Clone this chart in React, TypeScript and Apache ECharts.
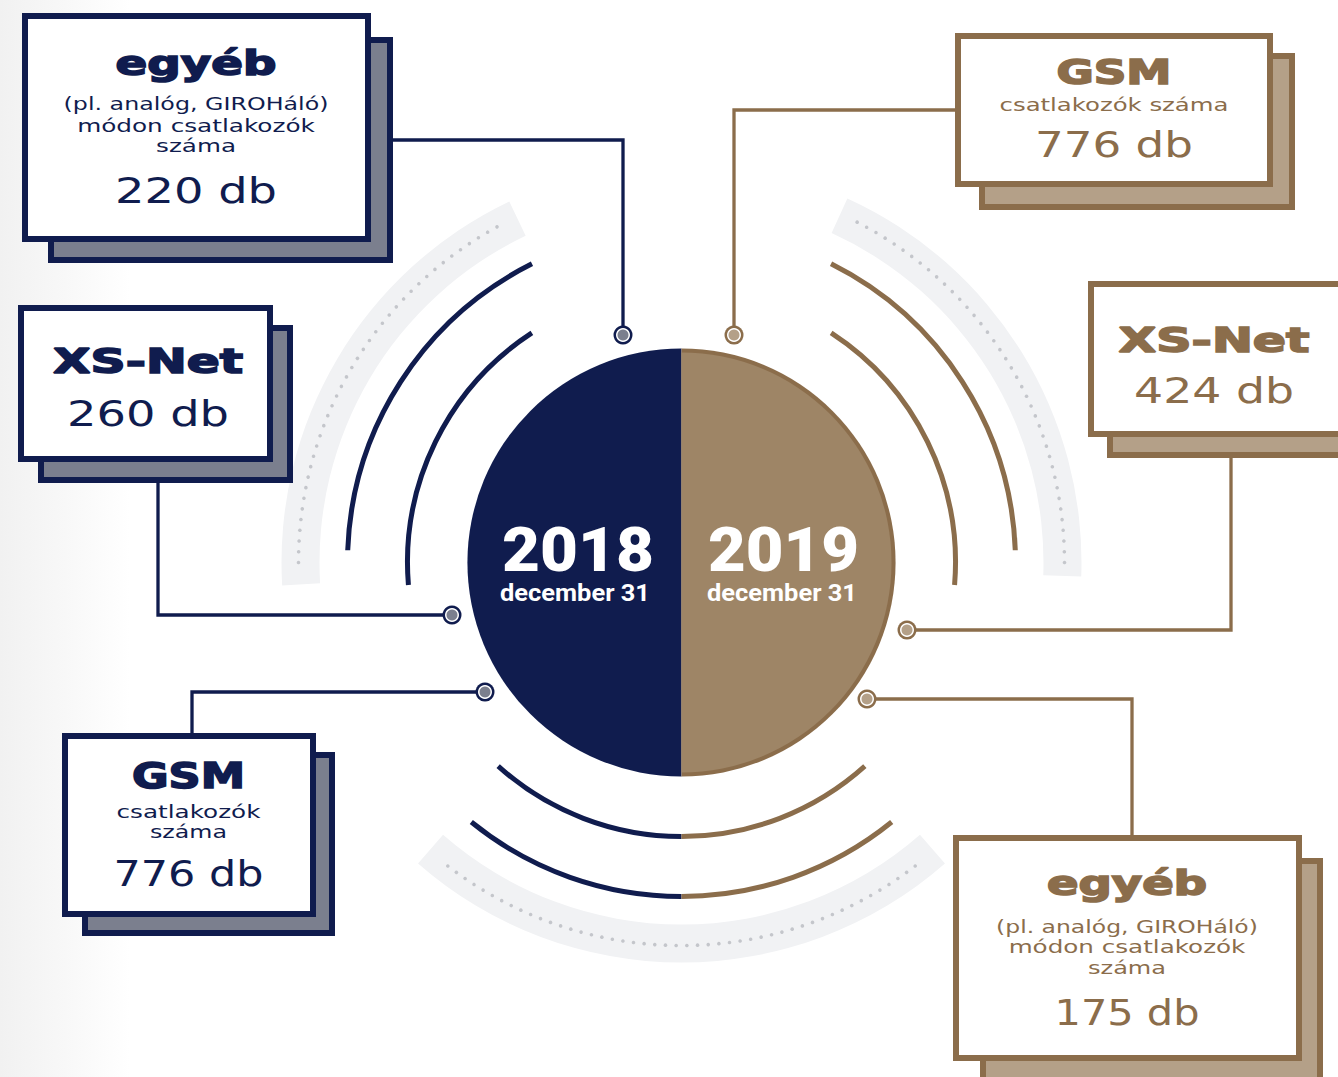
import React, { useEffect, useRef } from 'react';
import * as echarts from 'echarts';

// ---------- data ----------
const YEARS = ['2018', '2019'];
const DATE_LABEL = 'december 31';
const CATEGORIES = ['egyéb', 'XS-Net', 'GSM'];
const VALUES_2018 = [220, 260, 776];
const VALUES_2019 = [175, 424, 776];
const UNIT = 'db';
const NOTE_EGYEB = ['(pl. analóg, GIROHáló)', 'módon csatlakozók', 'száma'];
const NOTE_GSM_2018 = ['csatlakozók', 'száma'];
const NOTE_GSM_2019 = ['csatlakozók száma'];

// ---------- style ----------
const NAVY = '#101c4e';
const NAVY_SHADOW = '#7b7f8e';
const BROWN = '#8b6d4b';
const BROWN_SHADOW = '#b4a088';
const BROWN_FILL = '#9e8566';
const BAND = '#f1f2f4';
const DOT = '#c4c6cb';
const BOX_FONT = 'DejaVu Sans';
const YEAR_FONT = 'Roboto';

const CX = 681.5;
const CY = 562.5;
const R_CIRCLE = 214;
const R_ARC1 = 274;
const R_ARC2 = 334;
const R_BAND0 = 362;
const R_BAND1 = 400;
const R_DOTS = 383;

const rad = (d: number) => (d * Math.PI) / 180;

type Box = {
  year: number;
  cat: number;
  notes: string[];
  front: number[];
  shadow: number[];
  cx: number;
  title: number[]; // baseline, size, width
  noteLines: number[][]; // baseline, width
  value: number[]; // baseline, width
  link: number[][];
  dot: number[];
};

const BOXES: Box[] = [
  { year: 0, cat: 0, notes: NOTE_EGYEB, front: [22, 13, 371, 242], shadow: [48, 37, 393, 263], cx: 196,
    title: [75, 33, 161], noteLines: [[110, 265], [132, 238], [152, 80]], value: [203, 162],
    link: [[300, 140], [623, 140], [623, 335]], dot: [623, 335] },
  { year: 0, cat: 1, notes: [], front: [18, 305, 273, 462], shadow: [38, 325, 293, 483], cx: 148,
    title: [373, 34, 190], noteLines: [], value: [426, 162],
    link: [[158, 470], [158, 615], [452, 615]], dot: [452, 615] },
  { year: 0, cat: 2, notes: NOTE_GSM_2018, front: [62, 733, 316, 917], shadow: [82, 752, 335, 936], cx: 188.5,
    title: [788, 35, 113], noteLines: [[818, 144], [838, 77]], value: [886, 150],
    link: [[192, 750], [192, 692], [485, 692]], dot: [485, 692] },
  { year: 1, cat: 2, notes: NOTE_GSM_2019, front: [955, 33, 1273, 187], shadow: [979, 53, 1295, 210], cx: 1114,
    title: [84, 34, 115], noteLines: [[111, 229]], value: [157, 158],
    link: [[1000, 110], [734, 110], [734, 335]], dot: [734, 335] },
  { year: 1, cat: 1, notes: [], front: [1088, 281, 1346, 437], shadow: [1107, 301, 1366, 458], cx: 1214,
    title: [352, 34, 191], noteLines: [], value: [403, 160],
    link: [[1231, 440], [1231, 630], [907, 630]], dot: [907, 630] },
  { year: 1, cat: 0, notes: NOTE_EGYEB, front: [953, 835, 1302, 1061], shadow: [980, 858, 1323, 1085], cx: 1127,
    title: [895, 33, 160], noteLines: [[933, 262], [953, 237], [974, 78]], value: [1025, 145],
    link: [[1132, 850], [1132, 699], [867, 699]], dot: [867, 699] },
];

let measureCtx: CanvasRenderingContext2D | null = null;
function measure(text: string, font: string): number {
  if (!measureCtx) measureCtx = document.createElement('canvas').getContext('2d');
  if (!measureCtx) return 0;
  measureCtx.font = font;
  return measureCtx.measureText(text).width;
}

function textEl(text: string, cx: number, baseline: number, size: number, weight: string | number,
  family: string, width: number, color: string, strokeW = 0): any {
  const w = measure(text, `${weight} ${size}px '${family}'`);
  const sx = w > 0 && width > 0 ? width / w : 1;
  const style: any = { text, fill: color, fontSize: size, fontWeight: weight, fontFamily: family,
    align: 'center', verticalAlign: 'middle' };
  if (strokeW > 0) { style.stroke = color; style.lineWidth = strokeW; }
  return { type: 'text', x: cx, y: baseline - 0.345 * size, scaleX: sx, style };
}

function rect(x0: number, y0: number, x1: number, y1: number, fill: string): any {
  return { type: 'rect', shape: { x: x0, y: y0, width: x1 - x0, height: y1 - y0 }, style: { fill } };
}

function band(a0: number, a1: number): any {
  return { type: 'sector', shape: { cx: CX, cy: CY, r0: R_BAND0, r: R_BAND1, startAngle: rad(a0), endAngle: rad(a1), clockwise: true },
    style: { fill: BAND } };
}

function dots(a0: number, a1: number): any[] {
  const span = a1 - a0;
  const n = Math.round(span / 1.6);
  const out: any[] = [];
  for (let i = 0; i <= n; i++) {
    const a = rad(a0 + (span * i) / n);
    out.push({ type: 'circle', shape: { cx: CX + R_DOTS * Math.cos(a), cy: CY + R_DOTS * Math.sin(a), r: 1.8 }, style: { fill: DOT } });
  }
  return out;
}

function arc(r: number, a0: number, a1: number, color: string): any {
  return { type: 'arc', shape: { cx: CX, cy: CY, r, startAngle: rad(a0), endAngle: rad(a1), clockwise: true },
    style: { stroke: color, lineWidth: 5, fill: null, lineCap: 'butt' } };
}

function buildOption(): any {
  const els: any[] = [];
  // background tint on left edge
  els.push({ type: 'rect', shape: { x: 0, y: 0, width: 130, height: 1077 },
    style: { fill: new echarts.graphic.LinearGradient(0, 0, 1, 0, [
      { offset: 0, color: '#f1f1f1' }, { offset: 1, color: '#ffffff' }]) } });

  // grey bands with dotted centerline
  els.push(band(176.7, 244.5), band(294.5, 362), band(48.8, 131.2));
  els.push(...dots(180, 241.2), ...dots(297.3, 360), ...dots(52.4, 127.6));

  // side & bottom arcs
  els.push(arc(R_ARC1, 175.3, 236.9, NAVY), arc(R_ARC2, 182.1, 243.4, NAVY));
  els.push(arc(R_ARC1, 303.1, 364.7, BROWN), arc(R_ARC2, 296.6, 357.9, BROWN));
  els.push(arc(R_ARC1, 90, 132, NAVY), arc(R_ARC1, 48, 90, BROWN));
  els.push(arc(R_ARC2, 90, 129, NAVY), arc(R_ARC2, 51, 90, BROWN));

  // connectors
  BOXES.forEach((b) => {
    const c = b.year === 0 ? NAVY : BROWN;
    els.push({ type: 'polyline', shape: { points: b.link }, style: { stroke: c, lineWidth: 3.3, fill: null } });
  });
  BOXES.forEach((b) => {
    const c = b.year === 0 ? NAVY : BROWN;
    const inner = b.year === 0 ? NAVY_SHADOW : BROWN_SHADOW;
    els.push({ type: 'circle', shape: { cx: b.dot[0], cy: b.dot[1], r: 9.5 }, style: { fill: c } });
    els.push({ type: 'circle', shape: { cx: b.dot[0], cy: b.dot[1], r: 7 }, style: { fill: '#ffffff' } });
    els.push({ type: 'circle', shape: { cx: b.dot[0], cy: b.dot[1], r: 5.5 }, style: { fill: inner } });
  });

  // boxes
  const BW = 6;
  BOXES.forEach((b) => {
    const c = b.year === 0 ? NAVY : BROWN;
    const sh = b.year === 0 ? NAVY_SHADOW : BROWN_SHADOW;
    const [sx0, sy0, sx1, sy1] = b.shadow;
    const [fx0, fy0, fx1, fy1] = b.front;
    els.push(rect(sx0, sy0, sx1, sy1, c), rect(sx0 + BW, sy0 + BW, sx1 - BW, sy1 - BW, sh));
    els.push(rect(fx0, fy0, fx1, fy1, c), rect(fx0 + BW, fy0 + BW, fx1 - BW, fy1 - BW, '#ffffff'));
    els.push(textEl(CATEGORIES[b.cat], b.cx, b.title[0], b.title[1], 'bold', BOX_FONT, b.title[2], c, 1.6));
    b.notes.forEach((line, i) => {
      const nl = b.noteLines[i];
      els.push(textEl(line, b.cx, nl[0], 18, 'normal', BOX_FONT, nl[1], c));
    });
    const v = b.year === 0 ? VALUES_2018[b.cat] : VALUES_2019[b.cat];
    els.push(textEl(`${v} ${UNIT}`, b.cx, b.value[0], 36, 'normal', BOX_FONT, b.value[1], c));
  });

  // central circle
  els.push({ type: 'sector', shape: { cx: CX, cy: CY, r0: 0, r: R_CIRCLE, startAngle: rad(90), endAngle: rad(270), clockwise: true }, style: { fill: NAVY } });
  els.push({ type: 'sector', shape: { cx: CX, cy: CY, r0: 0, r: R_CIRCLE, startAngle: rad(270), endAngle: rad(450), clockwise: true }, style: { fill: BROWN } });
  els.push({ type: 'sector', shape: { cx: CX, cy: CY, r0: 0, r: R_CIRCLE - 4, startAngle: rad(270), endAngle: rad(450), clockwise: true }, style: { fill: BROWN_FILL } });

  els.push(textEl(YEARS[0], 578, 571, 62, 900, YEAR_FONT, 152, '#ffffff'));
  els.push(textEl(DATE_LABEL, 575, 601, 24, 'bold', YEAR_FONT, 150, '#ffffff'));
  els.push(textEl(YEARS[1], 783.5, 571, 62, 900, YEAR_FONT, 151, '#ffffff'));
  els.push(textEl(DATE_LABEL, 782, 601, 24, 'bold', YEAR_FONT, 150, '#ffffff'));

  return { animation: false, backgroundColor: '#ffffff', graphic: { elements: els } };
}

export default function App() {
  const ref = useRef<HTMLDivElement>(null);
  useEffect(() => {
    if (!ref.current) return;
    const chart = echarts.init(ref.current, null, { renderer: 'svg' });
    chart.setOption(buildOption());
    return () => chart.dispose();
  }, []);
  return (
    <div ref={ref} style={{ position: 'absolute', left: 0, top: 0, width: 1338, height: 1077, background: '#fff' }} />
  );
}
